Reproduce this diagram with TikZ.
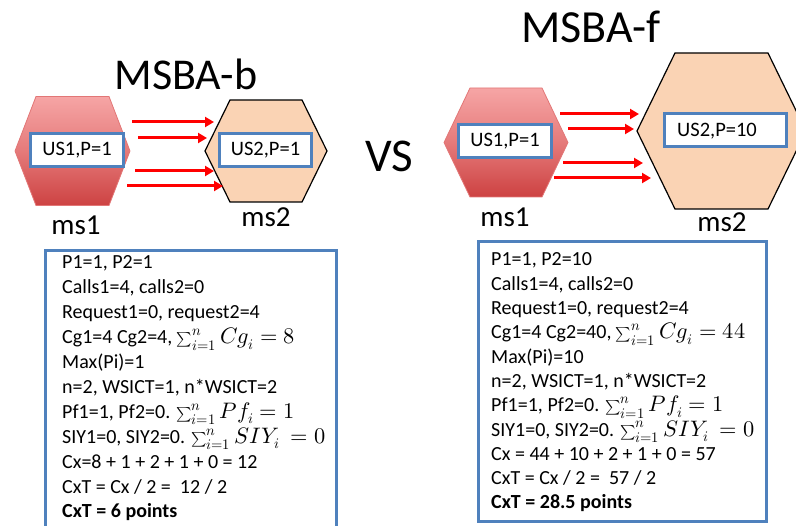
\documentclass[tikz,border=0pt]{standalone}
\usepackage{fontspec}
\usepackage{unicode-math}
\setmainfont{Carlito}
\setmathfont{Latin Modern Math}[Scale=1.12]
\DeclareMathSizes{20}{20}{13}{10}
\usetikzlibrary{arrows.meta}

\definecolor{officeblue}{HTML}{4F81BD}
\definecolor{peach}{HTML}{FAD3B4}
\definecolor{hexTop}{HTML}{F6A5A5}
\definecolor{hexMid}{HTML}{E57A7A}
\definecolor{hexBot}{HTML}{CD4242}
\definecolor{hexEdge}{HTML}{E27676}

% compact summation sign, about as tall as the capitals of the text
\newcommand\compactsum{\mathop{\hbox{\fontsize{13}{13}\selectfont$\sum$}}\nolimits}

\begin{document}
\begin{tikzpicture}[x=1pt,y=-1pt,
  flow/.style={draw=red, line width=3pt, -{Triangle[length=9pt,width=10pt]}},
  usbox/.style={draw=officeblue, line width=3pt, fill=white, inner sep=0pt,
    minimum height=33pt, font=\fontsize{20.5}{22}\selectfont},
  senderhex/.style={top color=hexTop, bottom color=hexBot, middle color=hexMid,
    draw=hexEdge, line width=0.8pt},
  receiverhex/.style={fill=peach, draw=black, line width=1.2pt},
  mslabel/.style={anchor=base, font=\fontsize{29}{31}\selectfont, inner sep=0pt},
  title/.style={anchor=base, font=\fontsize{46}{48}\selectfont, inner sep=0pt},
  textframe/.style={draw=officeblue, line width=3pt, fill=white, inner sep=0pt},
  calcline/.style={anchor=base west, inner sep=0pt, font=\fontsize{20}{22}\selectfont},
]
\useasboundingbox (0,0) rectangle (796,526);
\clip (0,0) rectangle (796,526);

% ---------------- MSBA-b ----------------
\node[title, font=\fontsize{44}{46}\selectfont] (titleb) at (186,90) {MSBA-b};

\path[senderhex] (15,151) -- (36,96.5) -- (109,96.5) -- (130,151)
  -- (109,205.5) -- (36,205.5) -- cycle;
\path[receiverhex] (205,151) -- (230,100) -- (302,100) -- (327,151)
  -- (302,202) -- (230,202) -- cycle;

\node[usbox, minimum width=93pt] (us1b) at (77,150) {US1,P=1};
\node[usbox, minimum width=92pt] (us2b) at (265.5,150.5) {US2,P=1};

\node[mslabel] (ms1b) at (76,235) {ms1};
\node[mslabel] (ms2b) at (266,227) {ms2};

\coordinate (ba1) at (132,122);  \coordinate (bb1) at (214,122);
\coordinate (ba2) at (138,138);  \coordinate (bb2) at (207,138);
\coordinate (ba3) at (135,171);  \coordinate (bb3) at (214,171);
\coordinate (ba4) at (127,186);  \coordinate (bb4) at (223,186);
\foreach \k in {1,...,4} \draw[flow] (ba\k) -- (bb\k);

% ---------------- VS ----------------
\node[anchor=base, inner sep=0pt, font=\fontsize{47}{49}\selectfont] (vs) at (389,172) {VS};

% ---------------- MSBA-f ----------------
\node[title] (titlef) at (591,43) {MSBA-f};

\path[senderhex] (444,142.5) -- (470,88) -- (542,88) -- (568,142.5)
  -- (542,197) -- (470,197) -- cycle;
\path[receiverhex] (637,131) -- (675,53) -- (768,53) -- (806,131)
  -- (768,209) -- (675,209) -- cycle;

\node[usbox, minimum width=93pt] (us1f) at (505,141.5) {US1,P=1};
\node[usbox, minimum width=122pt, minimum height=33pt] (us2f) at (725.5,130) {};
\node[anchor=base west, inner sep=0pt, font=\fontsize{20.5}{22}\selectfont] (us2ftext)
  at (677,137) {US2,P=10};

\node[mslabel] (ms1f) at (505,227) {ms1};
\node[mslabel] (ms2f) at (722,232) {ms2};

\coordinate (fa1) at (560,114);  \coordinate (fb1) at (639,114);
\coordinate (fa2) at (568,129);  \coordinate (fb2) at (634,129);
\coordinate (fa3) at (563,163);  \coordinate (fb3) at (643,163);
\coordinate (fa4) at (554,178);  \coordinate (fb4) at (651,178);
\foreach \k in {1,...,4} \draw[flow] (fa\k) -- (fb\k);

% ---------------- cost calculation, MSBA-b ----------------
\node[textframe, minimum width=291pt, minimum height=300pt] (frameb) at (191,401) {};
\foreach [count=\i] \t in {
  {P1=1, P2=1},
  {Calls1=4, calls2=0},
  {Request1=0, request2=4},
  {Cg1=4 Cg2=4, $\compactsum_{i=1}^{n} Cg_i = 8$},
  {Max(Pi)=1},
  {n=2, WSICT=1, n*WSICT=2},
  {Pf1=1, Pf2=0. $\compactsum_{i=1}^{n} Pf_i = 1$},
  {SIY1=0, SIY2=0. $\compactsum_{i=1}^{n} SIY_i\ = 0$},
  {Cx=8 + 1 + 2 + 1 + 0 = 12},
  {CxT = Cx / 2 =\ \ 12 / 2},
  {\bfseries CxT = 6 points}}
  \node[calcline] (bline\i) at (62,{269+24.9*(\i-1)}) {\t};

% ---------------- cost calculation, MSBA-f ----------------
\node[textframe, minimum width=288pt, minimum height=280pt] (framef) at (622.5,381.5) {};
\foreach [count=\i] \t in {
  {P1=1, P2=10},
  {Calls1=4, calls2=0},
  {Request1=0, request2=4},
  {Cg1=4 Cg2=40, $\compactsum_{i=1}^{n} Cg_i = 44$},
  {Max(Pi)=10},
  {n=2, WSICT=1, n*WSICT=2},
  {Pf1=1, Pf2=0. $\compactsum_{i=1}^{n} Pf_i = 1$},
  {SIY1=0, SIY2=0. $\compactsum_{i=1}^{n} SIY_i\ = 0$},
  {Cx = 44 + 10 + 2 + 1 + 0 = 57},
  {CxT = Cx / 2 =\ \ 57 / 2},
  {\bfseries CxT = 28.5 points}}
  \node[calcline] (fline\i) at (491,{266+24.3*(\i-1)}) {\t};
\end{tikzpicture}
\end{document}
